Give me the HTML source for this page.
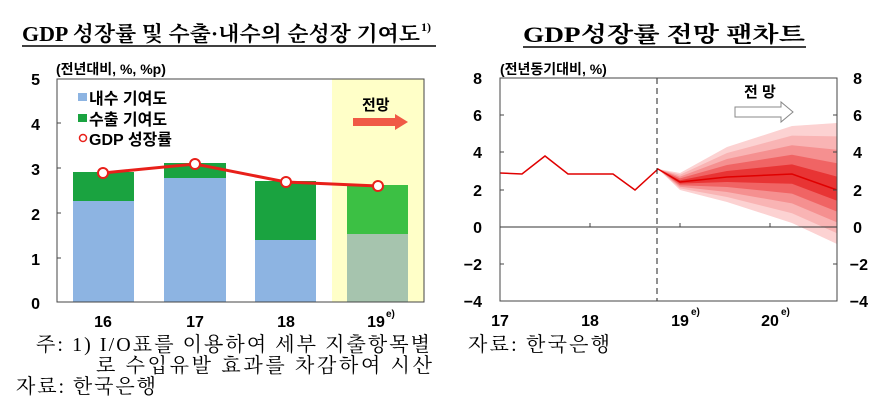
<!DOCTYPE html>
<html><head><meta charset="utf-8"><style>
body{margin:0;background:#fff;}
svg text{font-family:"Liberation Sans","Noto Sans CJK KR",sans-serif;}
.ser{font-family:"Liberation Serif","Noto Serif CJK SC","Noto Sans CJK KR",serif !important;}
</style></head><body>
<svg width="876" height="401" viewBox="0 0 876 401" xmlns="http://www.w3.org/2000/svg">
<text x="22" y="41" class="ser" font-size="21" font-weight="bold" textLength="398" lengthAdjust="spacingAndGlyphs">GDP 성장률 및 수출·내수의 순성장 기여도</text>
<text x="421" y="31" class="ser" font-size="12" font-weight="bold">1)</text>
<line x1="22" y1="46" x2="436" y2="46" stroke="#000" stroke-width="1.5"/>
<rect x="332" y="79" width="92" height="223" fill="#ffffc8"/>
<rect x="73" y="201" width="61" height="101" fill="#8db4e2"/>
<rect x="73" y="172" width="61" height="29" fill="#1aa340"/>
<rect x="164" y="178" width="62" height="124" fill="#8db4e2"/>
<rect x="164" y="163" width="62" height="15" fill="#1aa340"/>
<rect x="255" y="240" width="61" height="62" fill="#8db4e2"/>
<rect x="255" y="181" width="61" height="59" fill="#1aa340"/>
<rect x="347" y="234" width="61" height="68" fill="#a6c4ae"/>
<rect x="347" y="185" width="61" height="49" fill="#3cc044"/>
<rect x="57" y="79" width="367" height="223" fill="none" stroke="#444" stroke-width="1"/>
<g stroke="#444"><line x1="57" y1="123" x2="61" y2="123"/><line x1="57" y1="168" x2="61" y2="168"/><line x1="57" y1="213" x2="61" y2="213"/><line x1="57" y1="258" x2="61" y2="258"/></g>
<polyline points="103,173 195,164 286,182 378,186" fill="none" stroke="#e8201a" stroke-width="3"/>
<g fill="#fff" stroke="#e8201a" stroke-width="2"><circle cx="103" cy="173" r="5"/><circle cx="195" cy="164" r="5"/><circle cx="286" cy="182" r="5"/><circle cx="378" cy="186" r="5"/></g>
<g font-size="16" font-weight="bold" text-anchor="end"><text x="40" y="85">5</text><text x="40" y="130">4</text><text x="40" y="175">3</text><text x="40" y="220">2</text><text x="40" y="265">1</text><text x="40" y="309">0</text></g>
<text x="56" y="74" font-size="14" font-weight="bold">(전년대비, %, %p)</text>
<rect x="78" y="93" width="9" height="8" fill="#8db4e2"/><text x="89" y="104" font-size="16" font-weight="bold">내수 기여도</text>
<rect x="78" y="114" width="9" height="8" fill="#1aa340"/><text x="89" y="125" font-size="16" font-weight="bold">수출 기여도</text>
<circle cx="83" cy="138" r="3.5" fill="#fff" stroke="#e8201a" stroke-width="1.5"/><text x="89" y="145" font-size="16" font-weight="bold">GDP 성장률</text>
<text x="362" y="110" font-size="15" font-weight="bold">전망</text>
<polygon points="353,118 395,118 395,114 408,122 395,130 395,126 353,126" fill="#f05a46"/>
<g font-size="16" font-weight="bold" text-anchor="middle"><text x="103" y="327">16</text><text x="195" y="327">17</text><text x="286" y="327">18</text><text x="376" y="327">19</text></g>
<text x="386" y="317" font-size="10" font-weight="bold">e)</text>
<text x="36" y="351" class="ser" font-size="20" textLength="394" lengthAdjust="spacing">주: 1) I/O표를 이용하여 세부 지출항목별</text>
<text x="96" y="372" class="ser" font-size="20" textLength="336" lengthAdjust="spacing">로 수입유발 효과를 차감하여 시산</text>
<text x="16" y="393" class="ser" font-size="20" textLength="140" lengthAdjust="spacing">자료: 한국은행</text>
<text x="523" y="42" class="ser" font-size="22" font-weight="bold" textLength="282" lengthAdjust="spacingAndGlyphs">GDP성장률 전망 팬차트</text>
<line x1="523" y1="47" x2="806" y2="47" stroke="#000" stroke-width="1.5"/>
<polygon points="658,169 680,173 727,147 792,126 837,123 837,244 792,223 727,202 680,190" fill="#fcd2d2"/>
<polygon points="658,169 680,174.8 727,153 792,135.6 837,136.4 837,233.2 792,213.2 727,197 680,188.4" fill="#f9b4b4"/>
<polygon points="658,169 680,176.6 727,159 792,145.2 837,149.8 837,222.4 792,203.4 727,192 680,186.8" fill="#f59090"/>
<polygon points="658,169 680,178.4 727,165 792,154.8 837,163.2 837,211.6 792,193.6 727,187 680,185.2" fill="#f06464"/>
<polygon points="658,169 680,180.2 727,171 792,164.4 837,176.6 837,200.8 792,183.8 727,182 680,183.6" fill="#e83434"/>
<polyline points="500,173 522,174 545,156 568,174 613,174 635,190 658,169 680,182 727,177 792,174 837,190" fill="none" stroke="#e00000" stroke-width="1.5"/>
<line x1="500" y1="227" x2="837" y2="227" stroke="#333" stroke-width="1"/>
<line x1="657" y1="78" x2="657" y2="301" stroke="#222" stroke-width="1" stroke-dasharray="6,4"/>
<rect x="500" y="78" width="337" height="223" fill="none" stroke="#444" stroke-width="1"/>
<g stroke="#444"><line x1="590" y1="223" x2="590" y2="227"/><line x1="680" y1="223" x2="680" y2="227"/><line x1="770" y1="223" x2="770" y2="227"/>
<line x1="500" y1="115" x2="504" y2="115"/><line x1="500" y1="152" x2="504" y2="152"/><line x1="500" y1="190" x2="504" y2="190"/><line x1="500" y1="264" x2="504" y2="264"/>
<line x1="833" y1="115" x2="837" y2="115"/><line x1="833" y1="152" x2="837" y2="152"/><line x1="833" y1="190" x2="837" y2="190"/><line x1="833" y1="264" x2="837" y2="264"/></g>
<text x="500" y="74" font-size="14" font-weight="bold">(전년동기대비, %)</text>
<g font-size="16" font-weight="bold" text-anchor="end"><text x="482" y="84">8</text><text x="482" y="121">6</text><text x="482" y="158">4</text><text x="482" y="196">2</text><text x="482" y="233">0</text><text x="482" y="270">−2</text><text x="482" y="307">−4</text></g>
<g font-size="16" font-weight="bold" text-anchor="end"><text x="862" y="84">8</text><text x="862" y="121">6</text><text x="862" y="158">4</text><text x="862" y="196">2</text><text x="862" y="233">0</text><text x="868" y="270">−2</text><text x="868" y="307">−4</text></g>
<text x="744" y="97" font-size="15" font-weight="bold">전 망</text>
<polygon points="735,107 781,107 781,102 793,112 781,122 781,117 735,117" fill="#fff" stroke="#888" stroke-width="1"/>
<g font-size="16" font-weight="bold" text-anchor="middle"><text x="500" y="326">17</text><text x="590" y="326">18</text><text x="680" y="326">19</text><text x="770" y="326">20</text></g>
<text x="691" y="315" font-size="10" font-weight="bold">e)</text>
<text x="781" y="315" font-size="10" font-weight="bold">e)</text>
<text x="468" y="351" class="ser" font-size="20" textLength="142" lengthAdjust="spacing">자료: 한국은행</text>
</svg>
</body></html>
